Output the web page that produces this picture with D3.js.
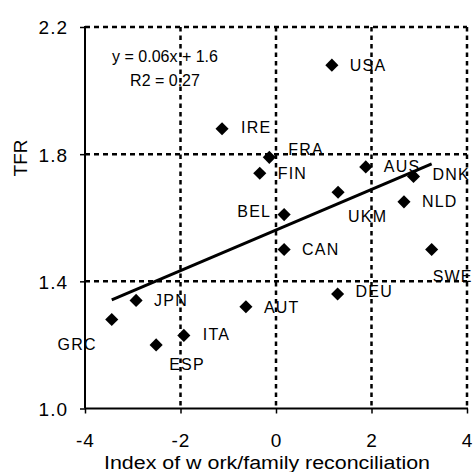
<!DOCTYPE html>
<html>
<head>
<meta charset="utf-8">
<script src="https://cdn.jsdelivr.net/npm/d3@7"></script>
<style>
  body { margin: 0; background: #fff; }
  svg { display: block; font-family: "Liberation Sans", Arial, sans-serif; }
</style>
</head>
<body>
<svg id="chart" width="473" height="472"></svg>
<script>
(function () {
    'use strict';

    // data
    var countries = ['AUS', 'AUT', 'BEL', 'CAN', 'DNK', 'FIN', 'FRA', 'DEU', 'GRC',
        'IRE', 'ITA', 'JPN', 'NLD', 'ESP', 'SWE', 'UKM', 'USA'];
    var workFamilyIndex = [1.88, -0.63, 0.17, 0.17, 2.88, -0.34, -0.14, 1.29, -3.44,
        -1.13, -1.93, -2.93, 2.68, -2.51, 3.26, 1.30, 1.17];
    var tfr = [1.76, 1.32, 1.61, 1.50, 1.73, 1.74, 1.79, 1.36, 1.28,
        1.88, 1.23, 1.34, 1.65, 1.20, 1.50, 1.68, 2.08];
    var xTicks = [-4, -2, 0, 2, 4];
    var yTicks = [1.0, 1.4, 1.8, 2.2];
    var equationLines = ['y = 0.06x + 1.6', 'R2 = 0.27'];

    // hand placed label offsets (px from marker centre), as in the original
    var labelOffset = {
        USA: [18, 0], IRE: [19, -1], FRA: [19, -8], FIN: [18, 0], BEL: [-13, -3],
        CAN: [18, 0], AUS: [18, -1], DNK: [19, -2], UKM: [10, 24], NLD: [18, -1],
        SWE: [1, 27], DEU: [18, -3], AUT: [18, 0], JPN: [18, 0], GRC: [-15, 25],
        ESP: [13, 19], ITA: [19, -1]
    };
    var endAnchored = { BEL: true, GRC: true };

    var points = countries.map(function (c, i) {
        return { name: c, x: workFamilyIndex[i], y: tfr[i] };
    });

    var svg = d3.select('#chart');
    var left = 85, right = 467, top = 27, bottom = 408.5;

    var x = d3.scaleLinear().domain([-4, 4]).range([left, right]);
    var y = d3.scaleLinear().domain([1.0, 2.2]).range([bottom, top]);

    // dashed grid
    svg.append('g').selectAll('line.vg')
        .data(xTicks.filter(function (d) { return d > -4; }))
        .enter().append('line')
        .attr('x1', function (d) { return x(d); })
        .attr('x2', function (d) { return x(d); })
        .attr('y1', top).attr('y2', bottom)
        .attr('stroke', '#000').attr('stroke-width', 2.5)
        .attr('stroke-dasharray', '4.5,4');
    svg.append('g').selectAll('line.hg')
        .data(yTicks.filter(function (d) { return d > 1.0; }))
        .enter().append('line')
        .attr('y1', function (d) { return y(d); })
        .attr('y2', function (d) { return y(d); })
        .attr('x1', left).attr('x2', right)
        .attr('stroke', '#000').attr('stroke-width', 2.5)
        .attr('stroke-dasharray', '5,4');

    // axes
    var yAxis = d3.axisLeft(y).tickValues(yTicks).tickSize(5).tickPadding(12)
        .tickFormat(d3.format('.1f'));
    var xAxis = d3.axisBottom(x).tickValues(xTicks).tickSize(5).tickPadding(20)
        .tickFormat(function (d) { return d; });

    var gy = svg.append('g').attr('transform', 'translate(' + left + ',0)').call(yAxis);
    var gx = svg.append('g').attr('transform', 'translate(0,' + bottom + ')').call(xAxis);
    [gx, gy].forEach(function (g) {
        g.select('.domain').remove();
        g.selectAll('.tick line').attr('stroke', '#000').attr('stroke-width', 1.5);
        g.selectAll('.tick text')
            .attr('fill', '#000')
            .style('font-size', '19px')
            .style('letter-spacing', '1px');
    });
    gy.selectAll('.tick text').attr('dy', '0.36em');

    svg.append('line')
        .attr('x1', left).attr('x2', left).attr('y1', top - 1).attr('y2', bottom)
        .attr('stroke', '#000').attr('stroke-width', 2);
    svg.append('line')
        .attr('x1', left).attr('x2', right + 1).attr('y1', bottom).attr('y2', bottom)
        .attr('stroke', '#000').attr('stroke-width', 2);

    // least squares trend line over the x range of the data
    var mx = d3.mean(points, function (d) { return d.x; });
    var my = d3.mean(points, function (d) { return d.y; });
    var sxy = d3.sum(points, function (d) { return (d.x - mx) * (d.y - my); });
    var sxx = d3.sum(points, function (d) { return (d.x - mx) * (d.x - mx); });
    var slope = sxy / sxx, intercept = my - slope * mx;
    var ext = d3.extent(points, function (d) { return d.x; });
    var trend = ext.map(function (v) { return [v, intercept + slope * v]; });

    // markers
    var diamond = d3.symbol().type(d3.symbolSquare).size(86);
    svg.append('g').selectAll('path')
        .data(points)
        .enter().append('path')
        .attr('d', diamond)
        .attr('transform', function (d) {
            return 'translate(' + x(d.x) + ',' + y(d.y) + ') rotate(45)';
        })
        .attr('fill', '#000');

    svg.append('path')
        .datum(trend)
        .attr('d', d3.line()
            .x(function (d) { return x(d[0]); })
            .y(function (d) { return y(d[1]); }))
        .attr('fill', 'none')
        .attr('stroke', '#000')
        .attr('stroke-width', 3);

    // point labels
    svg.append('g').selectAll('text')
        .data(points)
        .enter().append('text')
        .attr('x', function (d) { return x(d.x) + labelOffset[d.name][0]; })
        .attr('y', function (d) { return y(d.y) + labelOffset[d.name][1]; })
        .attr('dy', '0.36em')
        .attr('text-anchor', function (d) { return endAnchored[d.name] ? 'end' : 'start'; })
        .style('font-size', '16px')
        .style('letter-spacing', '1.2px')
        .attr('fill', '#000')
        .text(function (d) { return d.name; });

    // regression equation
    svg.append('g').selectAll('text')
        .data(equationLines)
        .enter().append('text')
        .attr('x', 165)
        .attr('y', function (d, i) { return 62 + i * 23.5; })
        .attr('text-anchor', 'middle')
        .style('font-size', '16px')
        .attr('fill', '#000')
        .text(function (d) { return d; });

    // axis titles
    svg.append('text')
        .attr('x', 267).attr('y', 469)
        .attr('text-anchor', 'middle')
        .attr('textLength', 326)
        .attr('lengthAdjust', 'spacingAndGlyphs')
        .style('font-size', '18px')
        .attr('fill', '#000')
        .text('Index of w ork/family reconciliation');
    svg.append('text')
        .attr('transform', 'translate(27,158) rotate(-90)')
        .attr('text-anchor', 'middle')
        .style('font-size', '19px')
        .attr('fill', '#000')
        .text('TFR');
}());
</script>
</body>
</html>
